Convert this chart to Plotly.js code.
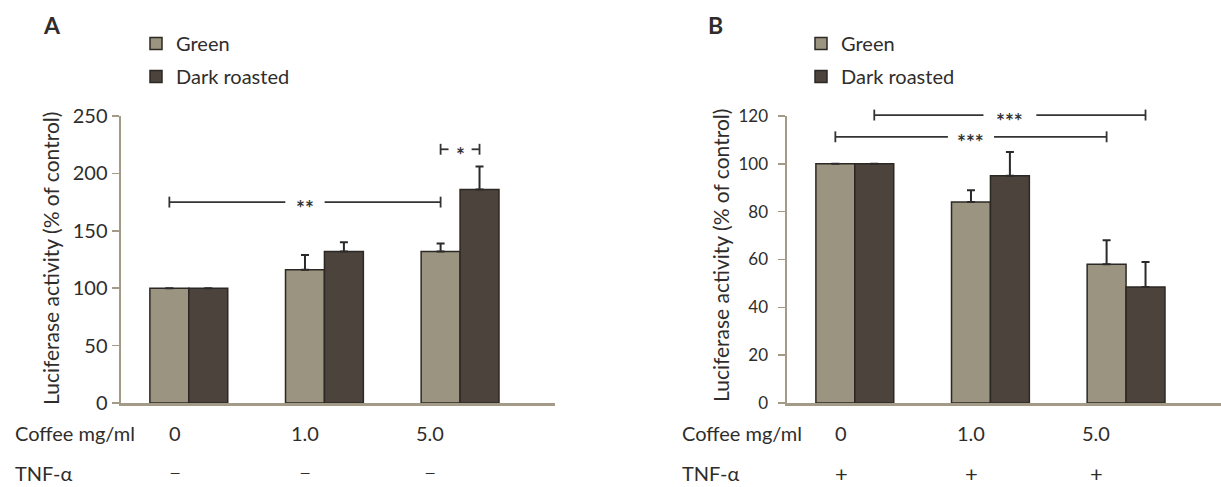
<!DOCTYPE html>
<html>
<head>
<meta charset="utf-8">
<script src="https://cdn.plot.ly/plotly-3.0.1.min.js"></script>
<style>
  html, body { margin: 0; padding: 0; background: #fff; }
  #chart { width: 1221px; height: 487px; }
</style>
</head>
<body>
<div id="chart"></div>
<script>
// ---- data ----
const doses = ['0', '1.0', '5.0'];
const tnfA = ['\u2014', '\u2014', '\u2014'];
const tnfB = ['+', '+', '+'];

// Panel A: coffee alone (% of control)
const greenA = [100, 116, 132];
const greenAErr = [0, 13, 7];
const darkA = [100, 132, 186];
const darkAErr = [0, 8, 20];

// Panel B: coffee + TNF-alpha (% of control)
const greenB = [100, 84, 58];
const greenBErr = [0, 5, 10];
const darkB = [100, 95, 48.5];
const darkBErr = [0, 10, 10.5];

// significance brackets: [series, group, series, group, level, label]
const sigA = [
  ['g', 0, 'g', 2, 175, '**'],
  ['g', 2, 'd', 2, 221, '*']
];
const sigB = [
  ['d', 0, 'd', 2, 120.4, '***'],
  ['g', 0, 'g', 2, 111.3, '***']
];

// ---- style ----
const W = 1221, H = 487;
const FONT = 'Lato, "Open Sans", sans-serif';
const TEXT = '#2f2d2b';
const AXIS = '#a39b88';
const GREEN = '#9b9481';
const DARK = '#4b433c';
const EDGE = '#2c2824';
const BARGAP = 0.426;
const HALF = (1 - BARGAP) / 4;           // offset of each bar centre from the group centre
const labelSlots = [-0.1, 0.86, 1.78];   // x positions of the dose / TNF rows
const gapA = [0.29, 0.17];
const gapB = [0.39, 0.34];
const yDom = [1 - 403 / H, 1 - 116 / H];

const px = v => v / W;
const py = v => 1 - v / H;
const idx = doses.map((_, i) => i);

function barTrace(name, y, err, color, xa, ya, legend, group) {
  return {
    type: 'bar', name: name, x: idx, y: y,
    xaxis: xa, yaxis: ya, legend: legend, legendgroup: group,
    marker: { color: color, line: { color: EDGE, width: 1.5 } },
    error_y: { type: 'data', symmetric: false, array: err, arrayminus: err.map(() => 0),
               color: '#2a2a2a', thickness: 2, width: 4 },
    hoverinfo: 'skip'
  };
}

const traces = [
  barTrace('Green', greenA, greenAErr, GREEN, 'x', 'y', 'legend', 'a1'),
  barTrace('Dark roasted', darkA, darkAErr, DARK, 'x', 'y', 'legend', 'a2'),
  barTrace('Green', greenB, greenBErr, GREEN, 'x2', 'y2', 'legend2', 'b1'),
  barTrace('Dark roasted', darkB, darkBErr, DARK, 'x2', 'y2', 'legend2', 'b2')
];

const shapes = [];
const annotations = [];

function barX(series, group) {
  return group + (series === 'g' ? -HALF : HALF);
}

function addBrackets(list, gaps, xref, yaxisName, ymax) {
  list.forEach((b, k) => {
    const x0 = barX(b[0], b[1]);
    const x1 = barX(b[2], b[3]);
    const yy = b[4] / ymax;
    const mid = (x0 + x1) / 2;
    const g = gaps[k] / 2;
    const yref = yaxisName + ' domain';
    const line = { color: '#333', width: 1.8 };
    const tick = 0.019;
    shapes.push({ type: 'line', xref: xref, yref: yref, x0: x0, x1: mid - g, y0: yy, y1: yy, line: line });
    shapes.push({ type: 'line', xref: xref, yref: yref, x0: mid + g, x1: x1, y0: yy, y1: yy, line: line });
    shapes.push({ type: 'line', xref: xref, yref: yref, x0: x0, x1: x0, y0: yy - tick, y1: yy + tick, line: line });
    shapes.push({ type: 'line', xref: xref, yref: yref, x0: x1, x1: x1, y0: yy - tick, y1: yy + tick, line: line });
    // label sits in the gap; placed on the page so it stays visible above the axis range
    annotations.push({ xref: xref, yref: 'paper', x: mid, y: yDom[0] + yy * (yDom[1] - yDom[0]),
                       text: '<b>' + b[5] + '</b>',
                       showarrow: false, xanchor: 'center', yanchor: 'middle', yshift: -5,
                       font: { family: FONT, size: 21, color: '#333' } });
  });
}
addBrackets(sigA, gapA, 'x', 'y', 250);
addBrackets(sigB, gapB, 'x2', 'y2', 120);

function text(t, x, y, opts) {
  annotations.push(Object.assign({ xref: 'paper', yref: 'paper', x: px(x), y: py(y), text: t,
    showarrow: false, xanchor: 'left', yanchor: 'middle',
    font: { family: FONT, size: 20, color: TEXT } }, opts || {}));
}

// panel letters
text('<b>A</b>', 52, 25, { xanchor: 'center', font: { family: FONT, size: 23, color: TEXT } });
text('<b>B</b>', 715, 25, { xanchor: 'center', font: { family: FONT, size: 23, color: TEXT } });

// y-axis titles
text('Luciferase activity (% of control)', 50, 259, { xanchor: 'center', textangle: -90,
  font: { family: FONT, size: 21, color: TEXT } });
text('Luciferase activity (% of control)', 720, 256, { xanchor: 'center', textangle: -90,
  font: { family: FONT, size: 21, color: TEXT } });

// row headers
text('Coffee mg/ml', 13, 433);
text('TNF-\u03b1', 13, 473);
text('Coffee mg/ml', 680, 433);
text('TNF-\u03b1', 680, 473);

// dose and TNF rows
function rows(xref, marks, markSize) {
  doses.forEach((d, i) => {
    annotations.push({ xref: xref, yref: 'paper', x: labelSlots[i], y: py(433), text: d, showarrow: false,
      xanchor: 'center', yanchor: 'middle', font: { family: FONT, size: 20, color: TEXT } });
    annotations.push({ xref: xref, yref: 'paper', x: labelSlots[i], y: py(473), text: marks[i], showarrow: false,
      xanchor: 'center', yanchor: 'middle', font: { family: FONT, size: markSize, color: TEXT } });
  });
}
rows('x', tnfA, 13);
rows('x2', tnfB, 22);

const xBase = {
  range: [-0.5, 2.7], showline: true, linecolor: AXIS, linewidth: 2.5,
  showticklabels: false, ticks: '', showgrid: false, zeroline: false, fixedrange: true
};
const yBase = {
  domain: yDom, ticks: 'outside', ticklen: 7, tickcolor: AXIS, tickwidth: 1.5,
  showline: true, linecolor: AXIS, linewidth: 2.5, showgrid: false, zeroline: false,
  fixedrange: true
};
const legendBase = {
  orientation: 'v', xanchor: 'left', yanchor: 'top', bgcolor: 'rgba(0,0,0,0)',
  font: { family: FONT, size: 20, color: TEXT }, tracegroupgap: 4, itemwidth: 30,
  traceorder: 'grouped'
};

const layout = {
  width: W, height: H,
  margin: { l: 0, r: 0, t: 0, b: 0 },
  paper_bgcolor: '#fff', plot_bgcolor: '#fff',
  font: { family: FONT, color: TEXT },
  barmode: 'group', bargap: BARGAP, bargroupgap: 0,
  showlegend: true,
  xaxis: Object.assign({}, xBase, { domain: [121 / W, 555 / W], anchor: 'y' }),
  yaxis: Object.assign({}, yBase, { anchor: 'x', range: [0, 250], dtick: 50, ticklabelstandoff: 0,
    tickfont: { family: FONT, size: 20, color: TEXT } }),
  xaxis2: Object.assign({}, xBase, { domain: [787 / W, 1], anchor: 'y2' }),
  yaxis2: Object.assign({}, yBase, { anchor: 'x2', range: [0, 120], dtick: 20, ticklabelstandoff: 6,
    tickfont: { family: FONT, size: 17, color: TEXT } }),
  legend: Object.assign({}, legendBase, { x: px(136), y: py(24) }),
  legend2: Object.assign({}, legendBase, { x: px(801), y: py(24) }),
  shapes: shapes,
  annotations: annotations
};

Plotly.newPlot('chart', traces, layout, { staticPlot: true, displayModeBar: false });
</script>
</body>
</html>
